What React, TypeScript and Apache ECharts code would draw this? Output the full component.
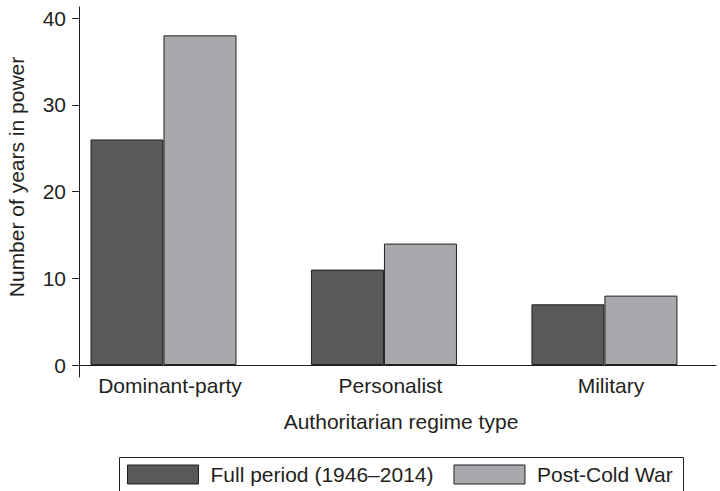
import React, { useEffect, useRef } from "react";
import * as echarts from "echarts";

const categories = ["Dominant-party", "Personalist", "Military"];
const fullPeriod = [26, 11, 7];
const postColdWar = [38, 14, 8];
const yTicks = [0, 10, 20, 30, 40];
const seriesNames = ["Full period (1946–2014)", "Post-Cold War"];
const yTitle = "Number of years in power";
const xTitle = "Authoritarian regime type";

const FONT = "'Liberation Sans', Arial, Helvetica, sans-serif";
const INK = "#231f20";
const DARK = "#58595b";
const LIGHT = "#a7a9ac";

export default function App() {
  const ref = useRef<HTMLDivElement>(null);
  useEffect(() => {
    if (!ref.current) return;
    const chart = echarts.init(ref.current, undefined, { renderer: "svg" });
    const catIdx = categories.map((_, i) => i);
    const option: any = {
      animation: false,
      backgroundColor: "#ffffff",
      textStyle: { fontFamily: FONT },
      grid: { left: 79, right: 4, top: 7, bottom: 114, containLabel: false, outerBoundsMode: "none" },
      xAxis: {
        type: "value",
        min: -0.3832,
        max: 2.506,
        axisLine: { show: true, onZero: true, lineStyle: { color: INK, width: 1 } },
        axisTick: { show: false },
        splitLine: { show: false },
        axisLabel: {
          customValues: catIdx,
          formatter: (v: number) => categories[Math.round(v)] ?? "",
          color: INK,
          fontSize: 21,
          fontFamily: FONT,
          margin: -2,
          padding: [0, 0, 0, 13],
        },
      },
      yAxis: {
        type: "value",
        min: -1.38,
        max: 41.27,
        axisLine: { show: true, onZero: false, lineStyle: { color: INK, width: 1 } },
        axisTick: { show: true, customValues: yTicks, length: 7, lineStyle: { color: INK, width: 1 } },
        splitLine: { show: false },
        axisLabel: {
          customValues: yTicks,
          color: INK,
          fontSize: 21,
          fontFamily: FONT,
          margin: 13,
        },
      },
      legend: {
        left: 119,
        top: 457,
        orient: "horizontal",
        icon: "rect",
        itemWidth: 71,
        itemHeight: 19,
        itemGap: 20,
        padding: [7, 7, 7, 8],
        borderWidth: 0,
        itemStyle: { borderColor: INK, borderWidth: 1 },
        textStyle: { color: INK, fontSize: 21, fontFamily: FONT, padding: [0, 0, 0, 7] },
        data: seriesNames,
      },
      graphic: [
        {
          type: "rect",
          shape: { x: 119.5, y: 457.5, width: 564, height: 60 },
          style: { fill: "none", stroke: INK, lineWidth: 1 },
          silent: true,
        },
        {
          type: "text",
          x: 16,
          y: 177,
          rotation: Math.PI / 2,
          style: { text: yTitle, fill: INK, fontSize: 21, fontFamily: FONT, align: "center", verticalAlign: "middle" },
        },
        {
          type: "text",
          x: 401,
          y: 421,
          style: { text: xTitle, fill: INK, fontSize: 21, fontFamily: FONT, align: "center", verticalAlign: "middle" },
        },
      ],
      series: [
        {
          name: seriesNames[0],
          type: "bar",
          barWidth: 73,
          barGap: "0%",
          itemStyle: { color: DARK, borderColor: INK, borderWidth: 1 },
          data: fullPeriod.map((v, i) => [i, v]),
        },
        {
          name: seriesNames[1],
          type: "bar",
          barWidth: 73,
          barGap: "0%",
          itemStyle: { color: LIGHT, borderColor: INK, borderWidth: 1 },
          data: postColdWar.map((v, i) => [i, v]),
        },
      ],
    };
    chart.setOption(option);
    return () => chart.dispose();
  }, []);
  return (
    <div
      ref={ref}
      style={{ position: "fixed", left: 0, top: 0, width: 720, height: 491, background: "#fff" }}
    />
  );
}
